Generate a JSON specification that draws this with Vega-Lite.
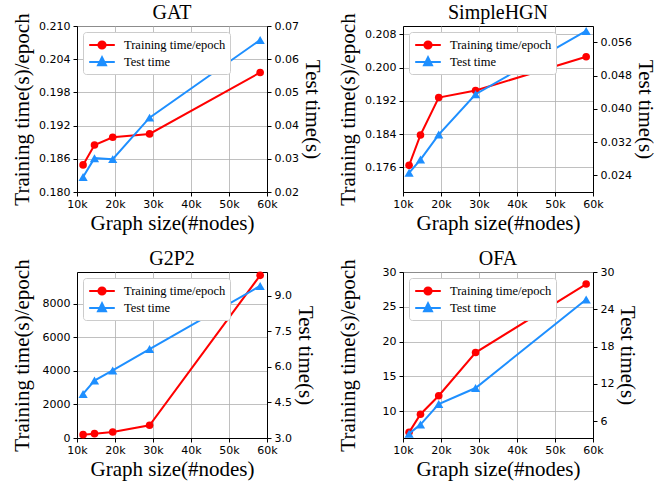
{
  "$schema": "https://vega.github.io/schema/vega-lite/v6.json",
  "background": "white",
  "padding": {"left": 10, "top": 2, "right": 5, "bottom": 5},
  "data": {
    "values": [
      {"model": "GAT", "series": "Training time/epoch", "nodes": 11600, "value": 0.1849},
      {"model": "GAT", "series": "Training time/epoch", "nodes": 14600, "value": 0.1885},
      {"model": "GAT", "series": "Training time/epoch", "nodes": 19400, "value": 0.1899},
      {"model": "GAT", "series": "Training time/epoch", "nodes": 29100, "value": 0.1905},
      {"model": "GAT", "series": "Training time/epoch", "nodes": 58200, "value": 0.2016},
      {"model": "GAT", "series": "Test time", "nodes": 11600, "value": 0.0245},
      {"model": "GAT", "series": "Test time", "nodes": 14600, "value": 0.0302},
      {"model": "GAT", "series": "Test time", "nodes": 19400, "value": 0.0299},
      {"model": "GAT", "series": "Test time", "nodes": 29100, "value": 0.0424},
      {"model": "GAT", "series": "Test time", "nodes": 58200, "value": 0.0658},
      {"model": "SimpleHGN", "series": "Training time/epoch", "nodes": 11600, "value": 0.1765},
      {"model": "SimpleHGN", "series": "Training time/epoch", "nodes": 14600, "value": 0.1838},
      {"model": "SimpleHGN", "series": "Training time/epoch", "nodes": 19400, "value": 0.1928},
      {"model": "SimpleHGN", "series": "Training time/epoch", "nodes": 29100, "value": 0.1945},
      {"model": "SimpleHGN", "series": "Training time/epoch", "nodes": 58200, "value": 0.2026},
      {"model": "SimpleHGN", "series": "Test time", "nodes": 11600, "value": 0.0246},
      {"model": "SimpleHGN", "series": "Test time", "nodes": 14600, "value": 0.0278},
      {"model": "SimpleHGN", "series": "Test time", "nodes": 19400, "value": 0.0338},
      {"model": "SimpleHGN", "series": "Test time", "nodes": 29100, "value": 0.0435},
      {"model": "SimpleHGN", "series": "Test time", "nodes": 58200, "value": 0.0587},
      {"model": "G2P2", "series": "Training time/epoch", "nodes": 11600, "value": 200},
      {"model": "G2P2", "series": "Training time/epoch", "nodes": 14600, "value": 260},
      {"model": "G2P2", "series": "Training time/epoch", "nodes": 19400, "value": 360},
      {"model": "G2P2", "series": "Training time/epoch", "nodes": 29100, "value": 760},
      {"model": "G2P2", "series": "Training time/epoch", "nodes": 58200, "value": 9710},
      {"model": "G2P2", "series": "Test time", "nodes": 11600, "value": 4.86},
      {"model": "G2P2", "series": "Test time", "nodes": 14600, "value": 5.42},
      {"model": "G2P2", "series": "Test time", "nodes": 19400, "value": 5.85},
      {"model": "G2P2", "series": "Test time", "nodes": 29100, "value": 6.75},
      {"model": "G2P2", "series": "Test time", "nodes": 58200, "value": 9.41},
      {"model": "OFA", "series": "Training time/epoch", "nodes": 11600, "value": 6.96},
      {"model": "OFA", "series": "Training time/epoch", "nodes": 14600, "value": 9.57},
      {"model": "OFA", "series": "Training time/epoch", "nodes": 19400, "value": 12.22},
      {"model": "OFA", "series": "Training time/epoch", "nodes": 29100, "value": 18.43},
      {"model": "OFA", "series": "Training time/epoch", "nodes": 58200, "value": 28.27},
      {"model": "OFA", "series": "Test time", "nodes": 11600, "value": 4.0},
      {"model": "OFA", "series": "Test time", "nodes": 14600, "value": 5.46},
      {"model": "OFA", "series": "Test time", "nodes": 19400, "value": 8.75},
      {"model": "OFA", "series": "Test time", "nodes": 29100, "value": 11.34},
      {"model": "OFA", "series": "Test time", "nodes": 58200, "value": 25.58}
    ]
  },
  "columns": 2,
  "spacing": {"row": 80, "column": 136},
  "bounds": "flush",
  "resolve": {"scale": {"color": "independent"}, "legend": {"color": "independent"}},
  "concat": [
    {
      "title": "GAT",
      "width": 190, "height": 166,
      "transform": [{"filter": "datum.model === 'GAT'"}],
      "encoding": {
        "x": {"field": "nodes", "type": "quantitative", "scale": {"domain": [10000, 60000], "nice": false, "zero": false},
              "axis": {"values": [10000, 20000, 30000, 40000, 50000, 60000], "labelExpr": "datum.value/1000 + 'k'", "title": "Graph size(#nodes)", "grid": true}},
        "color": {"field": "series", "type": "nominal", "scale": {"domain": ["Training time/epoch", "Test time"], "range": ["#ff0000", "#1e8fff"]},
                  "legend": {"title": null, "orient": "top-left", "offset": 6, "labelFontSize": 12.5, "labelFont": "Liberation Serif", "symbolSize": 256,
                    "encode": {"symbols": {"update": {
                      "shape": {"signal": "datum.value === 'Test time' ? 'M-1.6,0L1.6,0M0,-0.6L0.5,0.42L-0.5,0.42Z' : 'M-1.6,0L1.6,0M0.45,0A0.45,0.45 0 1,1 -0.45,0A0.45,0.45 0 1,1 0.45,0'"},
                      "fill": {"signal": "datum.value === 'Test time' ? '#1e8fff' : '#ff0000'"},
                      "stroke": {"signal": "datum.value === 'Test time' ? '#1e8fff' : '#ff0000'"},
                      "strokeWidth": {"value": 2}, "size": {"value": 256}, "opacity": {"value": 1}}}}}}
      },
      "layer": [
        {
          "transform": [{"filter": "datum.series === 'Training time/epoch'"}],
          "encoding": {"y": {"field": "value", "type": "quantitative", "scale": {"domain": [0.18, 0.21], "nice": false, "zero": false},
            "axis": {"values": [0.18, 0.186, 0.192, 0.198, 0.204, 0.21], "format": ".3f", "title": "Training time(s)/epoch", "grid": true, "minExtent": 42, "maxExtent": 42}}},
          "layer": [
            {"mark": {"type": "line", "strokeWidth": 2}},
            {"mark": {"type": "point", "shape": "circle", "filled": true, "size": 58, "opacity": 1}}
          ]
        },
        {
          "transform": [{"filter": "datum.series === 'Test time'"}],
          "encoding": {"y": {"field": "value", "type": "quantitative", "scale": {"domain": [0.02, 0.07], "nice": false, "zero": false},
            "axis": {"orient": "right", "values": [0.02, 0.03, 0.04, 0.05, 0.06, 0.07], "format": ".2f", "title": "Test time(s)", "grid": false}}},
          "layer": [
            {"mark": {"type": "line", "strokeWidth": 2}},
            {"mark": {"type": "point", "shape": "triangle-up", "filled": true, "size": 85, "opacity": 1}}
          ]
        }
      ],
      "resolve": {"scale": {"y": "independent"}}
    },
    {
      "title": "SimpleHGN",
      "width": 190, "height": 166,
      "transform": [{"filter": "datum.model === 'SimpleHGN'"}],
      "encoding": {
        "x": {"field": "nodes", "type": "quantitative", "scale": {"domain": [10000, 60000], "nice": false, "zero": false},
              "axis": {"values": [10000, 20000, 30000, 40000, 50000, 60000], "labelExpr": "datum.value/1000 + 'k'", "title": "Graph size(#nodes)", "grid": true}},
        "color": {"field": "series", "type": "nominal", "scale": {"domain": ["Training time/epoch", "Test time"], "range": ["#ff0000", "#1e8fff"]},
                  "legend": {"title": null, "orient": "top-left", "offset": 6, "labelFontSize": 12.5, "labelFont": "Liberation Serif", "symbolSize": 256,
                    "encode": {"symbols": {"update": {
                      "shape": {"signal": "datum.value === 'Test time' ? 'M-1.6,0L1.6,0M0,-0.6L0.5,0.42L-0.5,0.42Z' : 'M-1.6,0L1.6,0M0.45,0A0.45,0.45 0 1,1 -0.45,0A0.45,0.45 0 1,1 0.45,0'"},
                      "fill": {"signal": "datum.value === 'Test time' ? '#1e8fff' : '#ff0000'"},
                      "stroke": {"signal": "datum.value === 'Test time' ? '#1e8fff' : '#ff0000'"},
                      "strokeWidth": {"value": 2}, "size": {"value": 256}, "opacity": {"value": 1}}}}}}
      },
      "layer": [
        {
          "transform": [{"filter": "datum.series === 'Training time/epoch'"}],
          "encoding": {"y": {"field": "value", "type": "quantitative", "scale": {"domain": [0.1701, 0.21], "nice": false, "zero": false},
            "axis": {"values": [0.176, 0.184, 0.192, 0.2, 0.208], "format": ".3f", "title": "Training time(s)/epoch", "grid": true, "minExtent": 42, "maxExtent": 42}}},
          "layer": [
            {"mark": {"type": "line", "strokeWidth": 2}},
            {"mark": {"type": "point", "shape": "circle", "filled": true, "size": 58, "opacity": 1}}
          ]
        },
        {
          "transform": [{"filter": "datum.series === 'Test time'"}],
          "encoding": {"y": {"field": "value", "type": "quantitative", "scale": {"domain": [0.02, 0.0599], "nice": false, "zero": false},
            "axis": {"orient": "right", "values": [0.024, 0.032, 0.04, 0.048, 0.056], "format": ".3f", "title": "Test time(s)", "grid": false}}},
          "layer": [
            {"mark": {"type": "line", "strokeWidth": 2}},
            {"mark": {"type": "point", "shape": "triangle-up", "filled": true, "size": 85, "opacity": 1}}
          ]
        }
      ],
      "resolve": {"scale": {"y": "independent"}}
    },
    {
      "title": "G2P2",
      "width": 190, "height": 166,
      "transform": [{"filter": "datum.model === 'G2P2'"}],
      "encoding": {
        "x": {"field": "nodes", "type": "quantitative", "scale": {"domain": [10000, 60000], "nice": false, "zero": false},
              "axis": {"values": [10000, 20000, 30000, 40000, 50000, 60000], "labelExpr": "datum.value/1000 + 'k'", "title": "Graph size(#nodes)", "grid": true}},
        "color": {"field": "series", "type": "nominal", "scale": {"domain": ["Training time/epoch", "Test time"], "range": ["#ff0000", "#1e8fff"]},
                  "legend": {"title": null, "orient": "top-left", "offset": 6, "labelFontSize": 12.5, "labelFont": "Liberation Serif", "symbolSize": 256,
                    "encode": {"symbols": {"update": {
                      "shape": {"signal": "datum.value === 'Test time' ? 'M-1.6,0L1.6,0M0,-0.6L0.5,0.42L-0.5,0.42Z' : 'M-1.6,0L1.6,0M0.45,0A0.45,0.45 0 1,1 -0.45,0A0.45,0.45 0 1,1 0.45,0'"},
                      "fill": {"signal": "datum.value === 'Test time' ? '#1e8fff' : '#ff0000'"},
                      "stroke": {"signal": "datum.value === 'Test time' ? '#1e8fff' : '#ff0000'"},
                      "strokeWidth": {"value": 2}, "size": {"value": 256}, "opacity": {"value": 1}}}}}}
      },
      "layer": [
        {
          "transform": [{"filter": "datum.series === 'Training time/epoch'"}],
          "encoding": {"y": {"field": "value", "type": "quantitative", "scale": {"domain": [0, 9910], "nice": false, "zero": false},
            "axis": {"values": [0, 2000, 4000, 6000, 8000], "format": "d", "title": "Training time(s)/epoch", "grid": true, "minExtent": 42, "maxExtent": 42}}},
          "layer": [
            {"mark": {"type": "line", "strokeWidth": 2}},
            {"mark": {"type": "point", "shape": "circle", "filled": true, "size": 58, "opacity": 1}}
          ]
        },
        {
          "transform": [{"filter": "datum.series === 'Test time'"}],
          "encoding": {"y": {"field": "value", "type": "quantitative", "scale": {"domain": [3, 10.0], "nice": false, "zero": false},
            "axis": {"orient": "right", "values": [3, 4.5, 6, 7.5, 9], "format": ".1f", "title": "Test time(s)", "grid": false}}},
          "layer": [
            {"mark": {"type": "line", "strokeWidth": 2}},
            {"mark": {"type": "point", "shape": "triangle-up", "filled": true, "size": 85, "opacity": 1}}
          ]
        }
      ],
      "resolve": {"scale": {"y": "independent"}}
    },
    {
      "title": "OFA",
      "width": 190, "height": 166,
      "transform": [{"filter": "datum.model === 'OFA'"}],
      "encoding": {
        "x": {"field": "nodes", "type": "quantitative", "scale": {"domain": [10000, 60000], "nice": false, "zero": false},
              "axis": {"values": [10000, 20000, 30000, 40000, 50000, 60000], "labelExpr": "datum.value/1000 + 'k'", "title": "Graph size(#nodes)", "grid": true}},
        "color": {"field": "series", "type": "nominal", "scale": {"domain": ["Training time/epoch", "Test time"], "range": ["#ff0000", "#1e8fff"]},
                  "legend": {"title": null, "orient": "top-left", "offset": 6, "labelFontSize": 12.5, "labelFont": "Liberation Serif", "symbolSize": 256,
                    "encode": {"symbols": {"update": {
                      "shape": {"signal": "datum.value === 'Test time' ? 'M-1.6,0L1.6,0M0,-0.6L0.5,0.42L-0.5,0.42Z' : 'M-1.6,0L1.6,0M0.45,0A0.45,0.45 0 1,1 -0.45,0A0.45,0.45 0 1,1 0.45,0'"},
                      "fill": {"signal": "datum.value === 'Test time' ? '#1e8fff' : '#ff0000'"},
                      "stroke": {"signal": "datum.value === 'Test time' ? '#1e8fff' : '#ff0000'"},
                      "strokeWidth": {"value": 2}, "size": {"value": 256}, "opacity": {"value": 1}}}}}}
      },
      "layer": [
        {
          "transform": [{"filter": "datum.series === 'Training time/epoch'"}],
          "encoding": {"y": {"field": "value", "type": "quantitative", "scale": {"domain": [6.15, 30], "nice": false, "zero": false},
            "axis": {"values": [10, 15, 20, 25, 30], "format": "d", "title": "Training time(s)/epoch", "grid": true, "minExtent": 42, "maxExtent": 42}}},
          "layer": [
            {"mark": {"type": "line", "strokeWidth": 2}},
            {"mark": {"type": "point", "shape": "circle", "filled": true, "size": 58, "opacity": 1}}
          ]
        },
        {
          "transform": [{"filter": "datum.series === 'Test time'"}],
          "encoding": {"y": {"field": "value", "type": "quantitative", "scale": {"domain": [3.3, 30], "nice": false, "zero": false},
            "axis": {"orient": "right", "values": [6, 12, 18, 24, 30], "format": "d", "title": "Test time(s)", "grid": false}}},
          "layer": [
            {"mark": {"type": "line", "strokeWidth": 2}},
            {"mark": {"type": "point", "shape": "triangle-up", "filled": true, "size": 85, "opacity": 1}}
          ]
        }
      ],
      "resolve": {"scale": {"y": "independent"}}
    }
  ],
  "config": {
    "view": {"stroke": "black", "strokeWidth": 1},
    "axis": {"domainColor": "black", "tickColor": "black", "labelColor": "black", "titleColor": "black",
             "labelFont": "DejaVu Sans", "labelFontSize": 11, "titleFont": "Liberation Serif", "titleFontSize": 21,
             "titleFontWeight": "normal", "gridColor": "#b0b0b0", "gridWidth": 0.8, "tickSize": 4, "labelPadding": 3, "titlePadding": 3,
             "labelFlush": false, "labelOverlap": false},
    "axisX": {"titlePadding": 3, "labelPadding": 2},
    "title": {"font": "Liberation Serif", "fontSize": 20, "fontWeight": "normal", "color": "black", "offset": -10, "anchor": "middle"},
    "legend": {"labelFont": "Liberation Serif", "labelFontSize": 12.5, "labelColor": "black", "symbolSize": 256,
               "strokeColor": "#cccccc", "fillColor": "white", "cornerRadius": 3, "padding": 4, "rowPadding": 0,
               "symbolOffset": 6, "labelOffset": 13}
  }
}
